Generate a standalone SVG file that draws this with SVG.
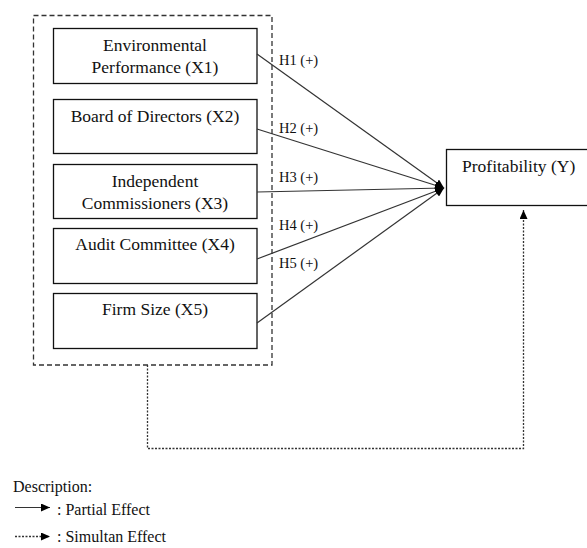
<svg xmlns="http://www.w3.org/2000/svg" width="587" height="548" viewBox="0 0 587 548" font-family="Liberation Serif, Times New Roman, DejaVu Serif, serif">
<style>
text{font-family:'Liberation Serif','Times New Roman','DejaVu Serif',serif;fill:#111}
.t{font-size:17.5px}
.h{font-size:14.5px}
.l{font-size:16px}
.box{fill:#fff;stroke:#111;stroke-width:1.3}
.edge{stroke:#333;stroke-width:1.2;fill:none}
.dash{stroke:#333;stroke-width:1.3;fill:none;stroke-dasharray:5,3}
.dot{stroke:#333;stroke-width:1.3;fill:none;stroke-dasharray:2,1.5}
</style>
<defs>
<marker id="ah" markerUnits="userSpaceOnUse" markerWidth="10" markerHeight="8" refX="9" refY="4" orient="auto">
<path d="M0,0 L9,4 L0,8 z" fill="#000"/>
</marker>
</defs>
<rect id="outer" x="33.5" y="15.5" width="238.5" height="349.5" class="dash"/>
<g id="x1"><rect x="53.5" y="28.5" width="203.5" height="55" class="box"/>
<text class="t" x="155" y="51" text-anchor="middle">Environmental</text>
<text class="t" x="155" y="73" text-anchor="middle">Performance (X1)</text></g>
<g id="x2"><rect x="53.5" y="99.5" width="203.5" height="54" class="box"/>
<text class="t" x="155" y="122" text-anchor="middle">Board of Directors (X2)</text></g>
<g id="x3"><rect x="53.5" y="164.5" width="203.5" height="54" class="box"/>
<text class="t" x="155" y="187" text-anchor="middle">Independent</text>
<text class="t" x="155" y="209" text-anchor="middle">Commissioners (X3)</text></g>
<g id="x4"><rect x="53.5" y="228.5" width="203.5" height="55" class="box"/>
<text class="t" x="155" y="250" text-anchor="middle">Audit Committee (X4)</text></g>
<g id="x5"><rect x="53.5" y="293.5" width="203.5" height="55" class="box"/>
<text class="t" x="155" y="315" text-anchor="middle">Firm Size (X5)</text></g>
<g id="y"><rect x="446.5" y="149.5" width="145" height="56" class="box"/>
<text class="t" x="462" y="172">Profitability (Y)</text></g>
<g id="connectors">
<line x1="257" y1="54" x2="444" y2="188" class="edge" marker-end="url(#ah)"/>
<line x1="257" y1="129" x2="444" y2="188" class="edge" marker-end="url(#ah)"/>
<line x1="257" y1="192" x2="444" y2="188" class="edge" marker-end="url(#ah)"/>
<line x1="257" y1="259" x2="444" y2="188" class="edge" marker-end="url(#ah)"/>
<line x1="257" y1="323" x2="444" y2="188" class="edge" marker-end="url(#ah)"/>
<polyline points="147.5,365 147.5,448.5 523.5,448.5 523.5,210" class="dot" marker-end="url(#ah)"/>
</g>
<g id="labels">
<text class="h" x="279" y="65">H1 (+)</text>
<text class="h" x="279" y="133">H2 (+)</text>
<text class="h" x="279" y="182">H3 (+)</text>
<text class="h" x="279" y="230">H4 (+)</text>
<text class="h" x="279" y="268">H5 (+)</text>
</g>
<g id="legend">
<text class="l" x="13" y="492">Description:</text>
<line x1="15" y1="507.5" x2="50" y2="507.5" class="edge" marker-end="url(#ah)"/>
<text class="l" x="57" y="515">: Partial Effect</text>
<line x1="15" y1="536.5" x2="50" y2="536.5" class="dot" marker-end="url(#ah)"/>
<text class="l" x="57" y="542">: Simultan Effect</text>
</g>
</svg>
